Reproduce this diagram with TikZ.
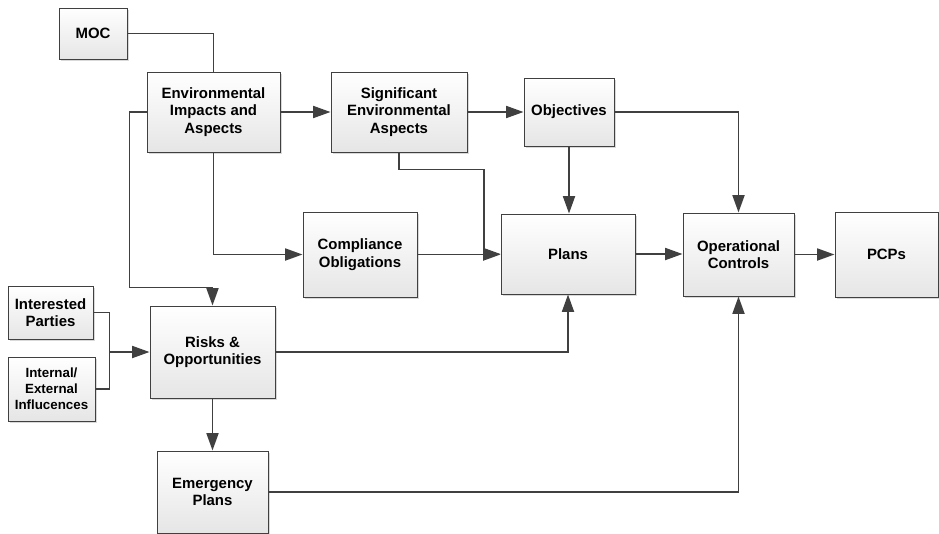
\documentclass[tikz,border=0pt]{standalone}
\usepackage{fontspec}
\setmainfont{Liberation Sans}
\usetikzlibrary{arrows.meta}
\usetikzlibrary{shadows}
\usetikzlibrary{positioning}
\definecolor{linegray}{HTML}{404040}
\tikzset{box/.style 2 args = {draw = linegray, line width = 0.75pt, top color = white, bottom color = gray!20,
    drop shadow = {shadow xshift = 1.5pt, shadow yshift = -1.5pt, fill = gray!50, opacity = 0.6},
    align = center, font = \bfseries\fontsize{11.2}{13.1}\selectfont, inner sep = 0,
    minimum width = #1*0.75pt, minimum height = #2*0.75pt}}
\tikzset{conn/.style = {draw = linegray, line width = 1.3pt}}
\tikzset{arr/.style = {conn, -{Triangle[length = 13pt, width = 9pt]}}}

\begin{document}
\begin{tikzpicture}[x = 0.75pt, y = -0.75pt]
    \useasboundingbox (0, 0) rectangle (939, 533);

    \node [box = {68}{51}] (moc) at (93, 33.5) {MOC};
    \node [box = {133}{80}] (eia) at (213.5, 112) {Environmental\\Impacts and\\Aspects};
    \node [box = {136}{80}] (sea) at (399, 112) {Significant\\Environmental\\Aspects};
    \node [box = {90}{68}] (obj) at (569, 112) {Objectives};
    \node [box = {114}{85}] (comp) at (360, 254.5) {Compliance\\Obligations};
    \node [box = {134}{80}] (plans) at (568, 254) {Plans};
    \node [box = {111}{83}] (oc) at (738.5, 254.5) {Operational\\Controls};
    \node [box = {103}{85}] (pcp) at (886.5, 254.5) {PCPs};
    \node [box = {85}{53}] (ip) at (50.5, 312.5) {Interested\\Parties};
    \node [box = {87}{64}, font = \bfseries\fontsize{10}{11.9}\selectfont] (iei) at (51.5, 389) {Internal/\\External\\Influcences};
    \node [box = {125}{92}] (ro) at (212.5, 352) {Risks \&\\Opportunities};
    \node [box = {111}{82}] (ep) at (212.5, 492) {Emergency\\Plans};

    \coordinate (sebend) at (484, 254);
    \coordinate (rotop) at ([yshift = 13.5pt] ro.north);
    \coordinate (join) at ([xshift = -30pt] ro.west);

    \draw [conn] (moc.east) -| (eia.north);
    \draw [arr] (eia.east) -- (sea.west);
    \draw [arr] (sea.east) -- (obj.west);
    \draw [arr] (obj.east) -| (oc.north);
    \draw [arr] (obj.south) -- (obj.south |- plans.north);
    \draw [arr] (sea.south) -- ++(0, 17) -| (sebend) -- (plans.west);
    \draw [arr] (comp.east) -- (comp.east -| plans.west);
    \draw [arr] (eia.south) |- (comp.west);
    \draw [arr] (eia.west) -- ++(-17, 0) |- (rotop) -- (ro.north);
    \draw [conn] (ip.east) -| (join);
    \draw [conn] (iei.east) -| (join);
    \draw [arr] (join) -- (ro.west);
    \draw [arr] (ro.east) -| (plans.south);
    \draw [arr] (ro.south) -- (ep.north);
    \draw [arr] (ep.east) -| (oc.south);
    \draw [arr] (plans.east) -- (plans.east -| oc.west);
    \draw [arr] (oc.east) -- (oc.east -| pcp.west);

\end{tikzpicture}
\end{document}
